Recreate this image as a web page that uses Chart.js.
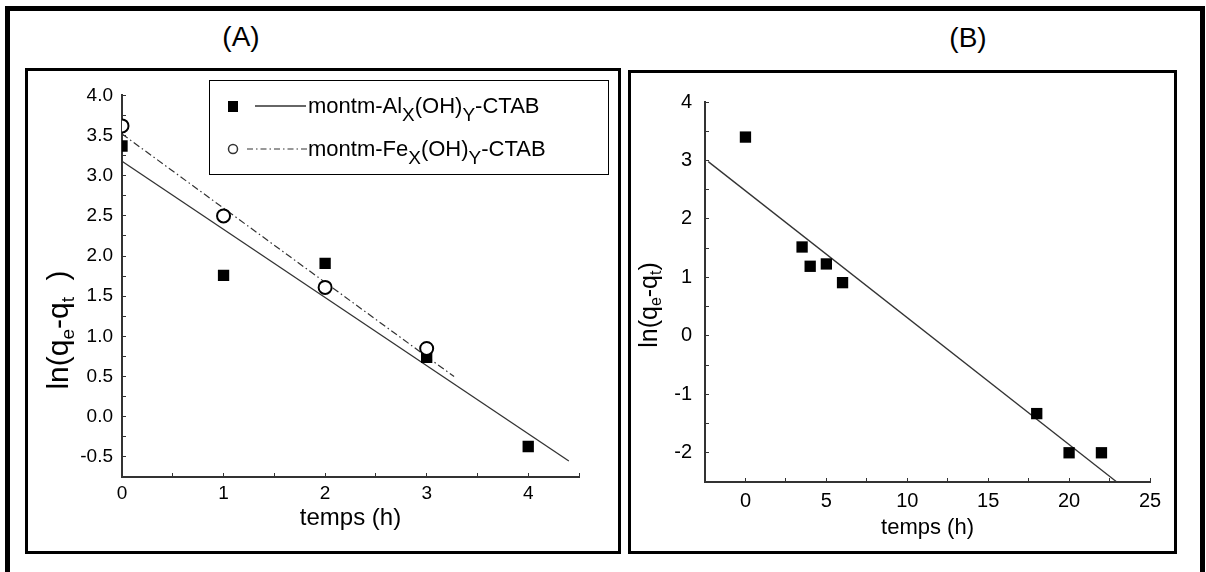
<!DOCTYPE html>
<html lang="fr">
<head>
<meta charset="UTF-8">
<title>ln(qe-qt) en fonction du temps</title>
<script src="https://cdn.jsdelivr.net/npm/chart.js@4.4.1/dist/chart.umd.min.js"></script>
<style>
  body { margin: 0; width: 1206px; height: 572px; overflow: hidden; background: #fff; position: relative;
         font-family: "Liberation Sans", Arial, sans-serif; }
  .frame { position: absolute; left: 5px; top: 6px; width: 1200px; height: 700px; border: 5px solid #000; box-sizing: border-box; }
  .box { position: absolute; border: 3px solid #000; box-sizing: border-box; }
  .tag { position: absolute; width: 100px; text-align: center; font-size: 28px; line-height: 30px; color: #000; }
  canvas { position: absolute; }
</style>
</head>
<body>
<div class="frame"></div>
<div class="box" style="left:25px;top:68px;width:596px;height:486px"></div>
<div class="box" style="left:628px;top:70px;width:549px;height:484px"></div>
<div class="tag" style="left:191px;top:22px">(A)</div>
<div class="tag" style="left:918px;top:23px">(B)</div>
<canvas id="chartA" width="590" height="480" style="left:28px;top:71px"></canvas>
<canvas id="chartB" width="543" height="478" style="left:631px;top:73px"></canvas>

<script>
// panel A : montm-Alx(OH)y-CTAB (squares) and montm-Fex(OH)y-CTAB (circles)
const tempsAl = [0, 1, 2, 3, 4];
const lnAl = [3.37, 1.76, 1.91, 0.74, -0.37];
const tempsFe = [0, 1, 2, 3];
const lnFe = [3.62, 2.50, 1.61, 0.85];
// fitted straight lines (end points)
const fitAlT = [0, 4.4];
const fitAl = [3.18, -0.55];
const fitFeT = [0, 3.27];
const fitFe = [3.52, 0.50];

// panel B
const tempsB = [0, 3.5, 4, 5, 6, 18, 20, 22];
const lnB = [3.40, 1.52, 1.19, 1.23, 0.91, -1.33, -2.0, -2.0];
const fitBT = [-2.3, 22.95];
const fitB = [2.98, -2.5];

// legend names: [text, subscript?]
const legendAl = [['montm-Al', 0], ['X', 1], ['(OH)', 0], ['Y', 1], ['-CTAB', 0]];
const legendFe = [['montm-Fe', 0], ['X', 1], ['(OH)', 0], ['Y', 1], ['-CTAB', 0]];
const yTitleA = [['ln(q', 0], ['e', 1], ['-q', 0], ['t', 1], ['  )', 0]];
const yTitleB = [['ln(q', 0], ['e', 1], ['-q', 0], ['t', 1], [')', 0]];

const FONT = '"Liberation Sans", Arial, sans-serif';
const INK = '#333';

function toXY(xs, ys) {
    return xs.map((x, i) => ({x: x, y: ys[i]}));
}

// draws text with subscripts; parts = [[text, isSub], ...]
function richText(ctx, parts, x, y, size, subSize, shift, center) {
    let w = 0;
    for (const p of parts) {
        ctx.font = (p[1] ? subSize : size) + 'px ' + FONT;
        w += ctx.measureText(p[0]).width;
    }
    let cx = center ? x - w / 2 : x;
    for (const p of parts) {
        ctx.font = (p[1] ? subSize : size) + 'px ' + FONT;
        ctx.fillText(p[0], cx, y + (p[1] ? shift : 0));
        cx += ctx.measureText(p[0]).width;
    }
}

function yTitle(parts, cx, cy, size, subSize, shift) {
    return {
        id: 'ytitle',
        afterDraw(chart) {
            const ctx = chart.ctx;
            ctx.save();
            ctx.translate(cx, cy);
            ctx.rotate(-Math.PI / 2);
            ctx.fillStyle = '#000';
            ctx.textBaseline = 'middle';
            richText(ctx, parts, 0, 0, size, subSize, shift, true);
            ctx.restore();
        }
    };
}

function axis(min, max, step, every, decimals, size, pad, fit, title) {
    return {
        type: 'linear', min: min, max: max,
        ticks: {
            stepSize: step, autoSkip: false, maxRotation: 0, padding: pad, color: '#000',
            font: {family: FONT, size: size},
            callback: v => Math.abs(v / every - Math.round(v / every)) < 1e-6 ? v.toFixed(decimals) : ''
        },
        grid: {drawOnChartArea: false, drawTicks: true, tickLength: -4, color: INK, lineWidth: 1},
        border: {display: true, color: INK, width: 2},
        title: title || {display: false},
        afterFit: fit
    };
}

const legendA = {
    id: 'legendA',
    afterDraw(chart) {
        const ctx = chart.ctx;
        ctx.save();
        ctx.fillStyle = '#fff';
        ctx.fillRect(181, 9, 399, 94);
        ctx.strokeStyle = '#000';
        ctx.lineWidth = 1;
        ctx.strokeRect(181.5, 9.5, 399, 94);
        // row 1 : square + solid line
        ctx.fillStyle = '#000';
        ctx.fillRect(200, 30, 10, 11);
        ctx.strokeStyle = INK;
        ctx.lineWidth = 1.3;
        ctx.beginPath(); ctx.moveTo(227, 35); ctx.lineTo(278, 35); ctx.stroke();
        // row 2 : open circle + dash-dot line
        ctx.lineWidth = 1.5;
        ctx.beginPath(); ctx.arc(205, 78, 4.5, 0, Math.PI * 2); ctx.stroke();
        ctx.lineWidth = 1.2;
        ctx.setLineDash([6, 3, 1.5, 3]);
        ctx.beginPath(); ctx.moveTo(219, 78); ctx.lineTo(279, 78); ctx.stroke();
        ctx.setLineDash([]);
        ctx.fillStyle = '#000';
        ctx.textBaseline = 'alphabetic';
        richText(ctx, legendAl, 280, 42, 22, 19, 8, false);
        richText(ctx, legendFe, 280, 85, 22, 19, 8, false);
        ctx.restore();
    }
};

const common = {
    responsive: false,
    animation: false,
    events: [],
    plugins: {legend: {display: false}, tooltip: {enabled: false}}
};

new Chart(document.getElementById('chartA'), {
    type: 'scatter',
    data: {
        datasets: [{
            data: toXY(tempsFe, lnFe), order: 0,
            pointStyle: 'circle', pointRadius: 6.5, backgroundColor: '#fff', borderColor: '#000', borderWidth: 2
        }, {
            data: toXY(tempsAl, lnAl), order: 1,
            pointStyle: 'rect', pointRadius: 8, backgroundColor: '#000', borderWidth: 0
        }, {
            data: toXY(fitAlT, fitAl), order: 2, showLine: true, pointRadius: 0,
            borderColor: INK, borderWidth: 1.3
        }, {
            data: toXY(fitFeT, fitFe), order: 3, showLine: true, pointRadius: 0,
            borderColor: INK, borderWidth: 1.2, borderDash: [7, 3, 1.5, 3]
        }]
    },
    options: Object.assign({}, common, {
        layout: {padding: {top: 16, right: 39, left: 0, bottom: 0}},
        scales: {
            x: axis(0, 4.5, 0.5, 1, 0, 19, 9, s => { s.height = 74; },
                {display: true, text: 'temps (h)', color: '#000', font: {family: FONT, size: 24}, padding: {top: 0, bottom: 18}}),
            y: axis(-0.75, 4, 0.25, 0.5, 1, 19, 13, s => { s.width = 94; })
        }
    }),
    plugins: [legendA, yTitle(yTitleA, 32, 259, 30, 19, 9)]
});

new Chart(document.getElementById('chartB'), {
    type: 'scatter',
    data: {
        datasets: [{
            data: toXY(tempsB, lnB), order: 0,
            pointStyle: 'rect', pointRadius: 8, backgroundColor: '#000', borderWidth: 0
        }, {
            data: toXY(fitBT, fitB), order: 1, showLine: true, pointRadius: 0,
            borderColor: INK, borderWidth: 1.3
        }]
    },
    options: Object.assign({}, common, {
        layout: {padding: {top: 29, right: 24, left: 0, bottom: 0}},
        scales: {
            x: axis(-2.5, 25, 2.5, 5, 0, 20, 11, s => { s.height = 69; },
                {display: true, text: 'temps (h)', color: '#000', font: {family: FONT, size: 22}, padding: {top: 0, bottom: 10}}),
            y: axis(-2.5, 4, 0.5, 1, 0, 20, 17, s => { s.width = 74; })
        }
    }),
    plugins: [yTitle(yTitleB, 19, 232, 25, 16, 7)]
});
</script>
</body>
</html>
